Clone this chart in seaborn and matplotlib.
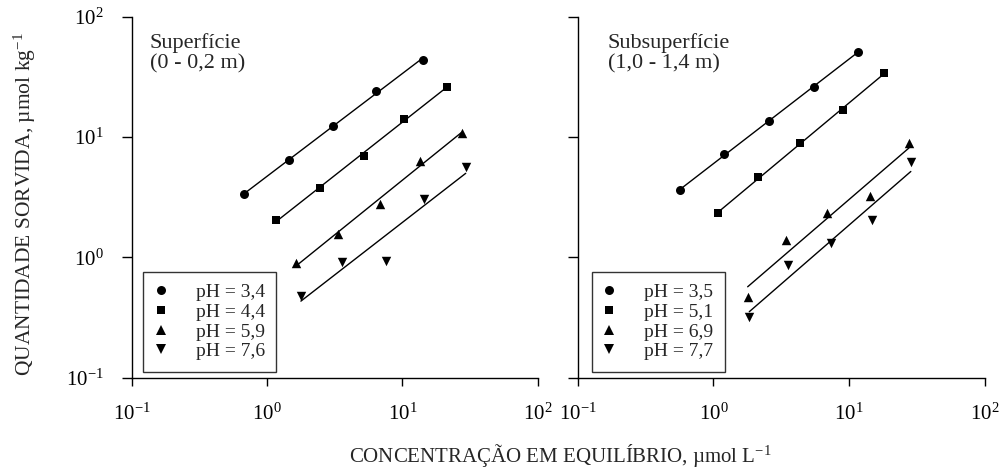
import numpy as np
import pandas as pd
import matplotlib
matplotlib.use("Agg")
import matplotlib.pyplot as plt
import seaborn as sns

# ---------------- data ----------------
left_labels = ["pH = 3,4", "pH = 4,4", "pH = 5,9", "pH = 7,6"]
left_x_a = [0.68, 1.46, 3.06, 6.43, 14.2]
left_y_a = [3.38, 6.40, 12.4, 24.1, 44.0]
left_x_b = [1.17, 2.47, 5.21, 10.3, 21.4]
left_y_b = [2.05, 3.79, 6.99, 14.2, 26.2]
left_x_c = [1.64, 3.33, 6.87, 13.4, 27.5]
left_y_c = [0.90, 1.56, 2.76, 6.31, 10.9]
left_x_d = [1.78, 3.60, 7.58, 14.5, 29.4]
left_y_d = [0.48, 0.92, 0.93, 3.07, 5.66]

right_labels = ["pH = 3,5", "pH = 5,1", "pH = 6,9", "pH = 7,7"]
right_x_a = [0.57, 1.20, 2.57, 5.52, 11.7]
right_y_a = [3.63, 7.18, 13.7, 26.2, 50.9]
right_x_b = [1.09, 2.14, 4.38, 9.08, 18.1]
right_y_b = [2.32, 4.68, 8.97, 16.9, 33.8]
right_x_c = [1.79, 3.41, 6.89, 14.4, 27.7]
right_y_c = [0.47, 1.39, 2.35, 3.23, 8.97]
right_x_d = [1.84, 3.56, 7.33, 14.8, 28.6]
right_y_d = [0.32, 0.86, 1.32, 2.04, 6.17]

panel_titles = ["Superfície\n(0 - 0,2 m)", "Subsuperfície\n(1,0 - 1,4 m)"]
x_label = "CONCENTRAÇÃO EM EQUILÍBRIO, µmol L$^{\\mathdefault{-1}}$"
y_label = "QUANTIDADE SORVIDA, µmol kg$^{\\mathdefault{-1}}$"

# ---------------- style ----------------
sns.set_theme(style="ticks")
plt.rcParams.update({
    "font.family": ["Liberation Serif", "DejaVu Serif"],
    "mathtext.fontset": "custom",
    "mathtext.rm": "Liberation Serif",
    "mathtext.it": "Liberation Serif:italic",
    "mathtext.bf": "Liberation Serif:bold",
    "axes.edgecolor": "black",
    "axes.linewidth": 1.0,
    "xtick.color": "black",
    "ytick.color": "black",
    "xtick.major.width": 1.0,
    "ytick.major.width": 1.0,
    "xtick.major.size": 6,
    "ytick.major.size": 7,
    "xtick.direction": "out",
    "ytick.direction": "out",
    "xtick.minor.visible": False,
    "ytick.minor.visible": False,
})

markers = ["o", "s", "^", "v"]
sizes = [42, 30, 46, 46]

fig = plt.figure(figsize=(9.99, 4.72), dpi=100)
ax_l = fig.add_axes([0.1318, 0.1998, 0.4064, 0.7648])
ax_r = fig.add_axes([0.5784, 0.1998, 0.4071, 0.7648])

panels = [
    (ax_l, left_labels,
     [(left_x_a, left_y_a), (left_x_b, left_y_b), (left_x_c, left_y_c), (left_x_d, left_y_d)],
     (0.028, 0.016), (0.045, 0.955)),
    (ax_r, right_labels,
     [(right_x_a, right_y_a), (right_x_b, right_y_b), (right_x_c, right_y_c), (right_x_d, right_y_d)],
     (0.034, 0.016), (0.073, 0.955)),
]

for idx, (ax, labels, series, leg_anchor, title_pos) in enumerate(panels):
    handles = []
    for (xs, ys), lab, mk, sz in zip(series, labels, markers, sizes):
        xs = np.asarray(xs, float)
        ys = np.asarray(ys, float)
        # log-log linear fit drawn across the data range
        a, b = np.polyfit(np.log10(xs), np.log10(ys), 1)
        xf = np.array([xs.min(), xs.max()])
        yf = 10 ** (a * np.log10(xf) + b)
        sns.lineplot(x=xf, y=yf, ax=ax, color="black", linewidth=1.0,
                     estimator=None, sort=False)
        sns.scatterplot(x=xs, y=ys, ax=ax, marker=mk, s=sz, color="black",
                        linewidth=0, zorder=3)
        h = plt.Line2D([], [], linestyle="none", marker=mk, color="black",
                       markersize=np.sqrt(sz), markeredgewidth=0)
        handles.append(h)

    ax.set_xscale("log")
    ax.set_yscale("log")
    ax.set_xlim(0.1, 100)
    ax.set_ylim(0.1, 100)
    ax.set_xticks([0.1, 1, 10, 100])
    ax.set_yticks([0.1, 1, 10, 100])
    ax.minorticks_off()
    ax.tick_params(axis="x", labelsize=15, pad=13)
    ax.tick_params(axis="y", labelsize=15, pad=13)
    if idx == 1:
        ax.tick_params(axis="y", labelleft=False)
    sns.despine(ax=ax)
    ax.set_facecolor("white")

    leg = ax.legend(handles, labels, loc="lower left", bbox_to_anchor=leg_anchor,
                    borderaxespad=0, fontsize=14, frameon=True, fancybox=False,
                    edgecolor="black", handlelength=0.6, handletextpad=1.5,
                    labelspacing=0.11, borderpad=0.6)
    leg.get_frame().set_linewidth(1.0)

    ax.text(title_pos[0], title_pos[1], panel_titles[idx], transform=ax.transAxes,
            ha="left", va="top", fontsize=16, linespacing=1.1)

fig.text(0.5606, 0.036, x_label, ha="center", va="center", fontsize=15)
fig.text(0.025, 0.568, y_label, ha="center", va="center", rotation=90, fontsize=15.5)

fig.savefig("out.png", dpi=100, facecolor="white")
